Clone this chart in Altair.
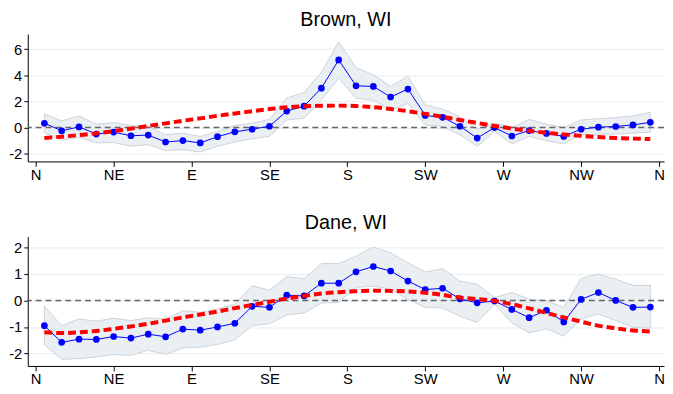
import json
import altair as alt
import pandas as pd

angles = list(range(5, 360, 10))
tick_values = [0, 45, 90, 135, 180, 225, 270, 315, 360]
tick_labels = ["N", "NE", "E", "SE", "S", "SW", "W", "NW", "N"]

brown_est = [0.33, -0.25, 0.05, -0.5, -0.35, -0.63, -0.58, -1.11, -1.0, -1.18, -0.7, -0.33,
             -0.13, 0.1, 1.26, 1.64, 3.02, 5.18, 3.2, 3.15, 2.34, 2.95, 0.93, 0.78,
             0.1, -0.81, 0.0, -0.65, -0.23, -0.45, -0.68, -0.13, 0.03, 0.08, 0.2, 0.4]
brown_hi = [1.04, 0.51, 0.89, 0.26, 0.38, 0.15, 0.08, -0.55, -0.43, -0.68, -0.30, 0.15,
            0.33, 0.63, 2.27, 2.68, 4.24, 6.57, 4.6, 4.04, 3.16, 3.94, 1.72, 1.42,
            0.83, -0.12, 0.35, 0.0, 0.63, 0.26, 0.0, 0.58, 0.68, 0.76, 0.89, 1.17]
brown_lo = [-0.40, -0.98, -0.75, -1.18, -1.15, -1.44, -1.31, -1.77, -1.70, -1.87, -1.44, -1.11,
            -0.86, -0.68, 0.58, 0.71, 2.1, 3.79, 2.23, 2.1, 1.34, 1.85, 0.2, 0.08,
            -0.55, -1.44, -0.3, -1.26, -0.68, -1.0, -1.26, -0.55, -0.5, -0.5, -0.43, -0.35]
brown_fit = [-0.80, -0.70, -0.58, -0.45, -0.28, -0.08, 0.12, 0.32, 0.52, 0.70, 0.90, 1.08,
             1.25, 1.42, 1.55, 1.63, 1.67, 1.68, 1.65, 1.56, 1.42, 1.25, 1.05, 0.82,
             0.58, 0.35, 0.12, -0.08, -0.25, -0.40, -0.53, -0.64, -0.73, -0.80, -0.85, -0.88]

dane_est = [-0.95, -1.58, -1.46, -1.47, -1.36, -1.42, -1.27, -1.37, -1.08, -1.12, -1.0, -0.86,
            -0.22, -0.26, 0.2, 0.17, 0.65, 0.65, 1.08, 1.28, 1.11, 0.73, 0.41, 0.46,
            0.06, -0.09, -0.02, -0.34, -0.65, -0.37, -0.81, 0.04, 0.3, 0.0, -0.26, -0.25]
dane_hi = [-0.22, -0.95, -0.7, -0.78, -0.67, -0.76, -0.65, -0.7, -0.39, -0.45, -0.32, -0.14,
           0.55, 0.39, 0.9, 0.82, 1.39, 1.39, 1.67, 2.02, 1.79, 1.42, 1.07, 1.2,
           0.73, 0.61, 0.11, 0.3, 0.05, -0.01, -0.26, 0.83, 1.0, 0.8, 0.57, 0.57]
dane_lo = [-1.67, -2.22, -2.19, -2.13, -2.04, -2.07, -1.88, -2.03, -1.79, -1.76, -1.66, -1.48,
           -0.95, -0.88, -0.55, -0.47, -0.1, -0.07, 0.49, 0.54, 0.43, 0.04, -0.26, -0.28,
           -0.6, -0.82, -0.14, -0.85, -1.22, -1.07, -1.34, -0.7, -0.51, -0.76, -1.01, -1.05]
dane_fit = [-1.20, -1.23, -1.20, -1.15, -1.07, -0.98, -0.88, -0.76, -0.64, -0.53, -0.42, -0.29,
            -0.17, -0.05, 0.07, 0.17, 0.26, 0.31, 0.35, 0.37, 0.36, 0.34, 0.29, 0.21,
            0.11, 0.05, -0.02, -0.14, -0.30, -0.47, -0.64, -0.80, -0.95, -1.05, -1.13, -1.17]

FONT = "Liberation Sans"
label_expr = json.dumps(tick_labels) + "[round(datum.value / 45)]"
num_expr = "datum.value < 0 ? '-' + abs(datum.value) : '' + datum.value"


def panel(title, est, lo, hi, fit, ydomain, yticks, height):
    df = pd.DataFrame({"angle": angles, "est": est, "lo": lo, "hi": hi, "fit": fit})
    xs = alt.Scale(domain=[-4.6, 362.9], nice=False, zero=False)
    ys = alt.Scale(domain=ydomain, nice=False, zero=False)
    x = alt.X("angle:Q", scale=xs,
              axis=alt.Axis(values=tick_values, labelExpr=label_expr, grid=False, title=None,
                            tickSize=5, labelPadding=1, labelFlush=False, labelOverlap=False,
                            labelFont=FONT, labelFontSize=15, labelColor="black",
                            domainColor="black", tickColor="black"))
    yax = alt.Axis(values=yticks, labelExpr=num_expr, grid=True, title=None, tickSize=4,
                   labelPadding=2, gridColor="#e6eef0", gridWidth=1, labelOverlap=False,
                   labelFont=FONT, labelFontSize=15, labelColor="black",
                   domainColor="black", tickColor="black")

    def Y(field):
        return alt.Y(field, scale=ys, axis=yax)

    base = alt.Chart(df)
    band = base.mark_area(color="#e9eff2", stroke="#c3cbd1", strokeWidth=0.8, opacity=1).encode(
        x=x, y=Y("lo:Q"), y2="hi:Q")
    zero = alt.Chart(pd.DataFrame({"z": [0]})).mark_rule(
        color="#666666", strokeWidth=1.4, strokeDash=[6, 4]).encode(y=Y("z:Q"))
    line = base.mark_line(color="#0000ff", strokeWidth=1).encode(x=x, y=Y("est:Q"))
    pts = base.mark_circle(color="#0000ff", size=46, opacity=1).encode(x=x, y=Y("est:Q"))
    fitl = base.mark_line(color="#ff0000", strokeWidth=4, strokeDash=[8, 4],
                          interpolate="monotone").encode(x=x, y=Y("fit:Q"))
    return alt.layer(band, zero, line, pts, fitl).properties(
        width=644, height=height,
        title=alt.TitleParams(title, fontSize=20, font=FONT, fontWeight="normal",
                              color="black", offset=4, anchor="middle"))


top = panel("Brown, WI", brown_est, brown_lo, brown_hi, brown_fit,
            [-2.6, 7.17], [-2, 0, 2, 4, 6], 129)
bottom = panel("Dane, WI", dane_est, dane_lo, dane_hi, dane_fit,
               [-2.47, 2.41], [-2, -1, 0, 1, 2], 131)

chart = alt.vconcat(top, bottom, spacing=31).properties(
    padding=0, background="white").configure_view(stroke=None)

chart.save("out.html", embed_options={"renderer": "svg", "actions": False})
